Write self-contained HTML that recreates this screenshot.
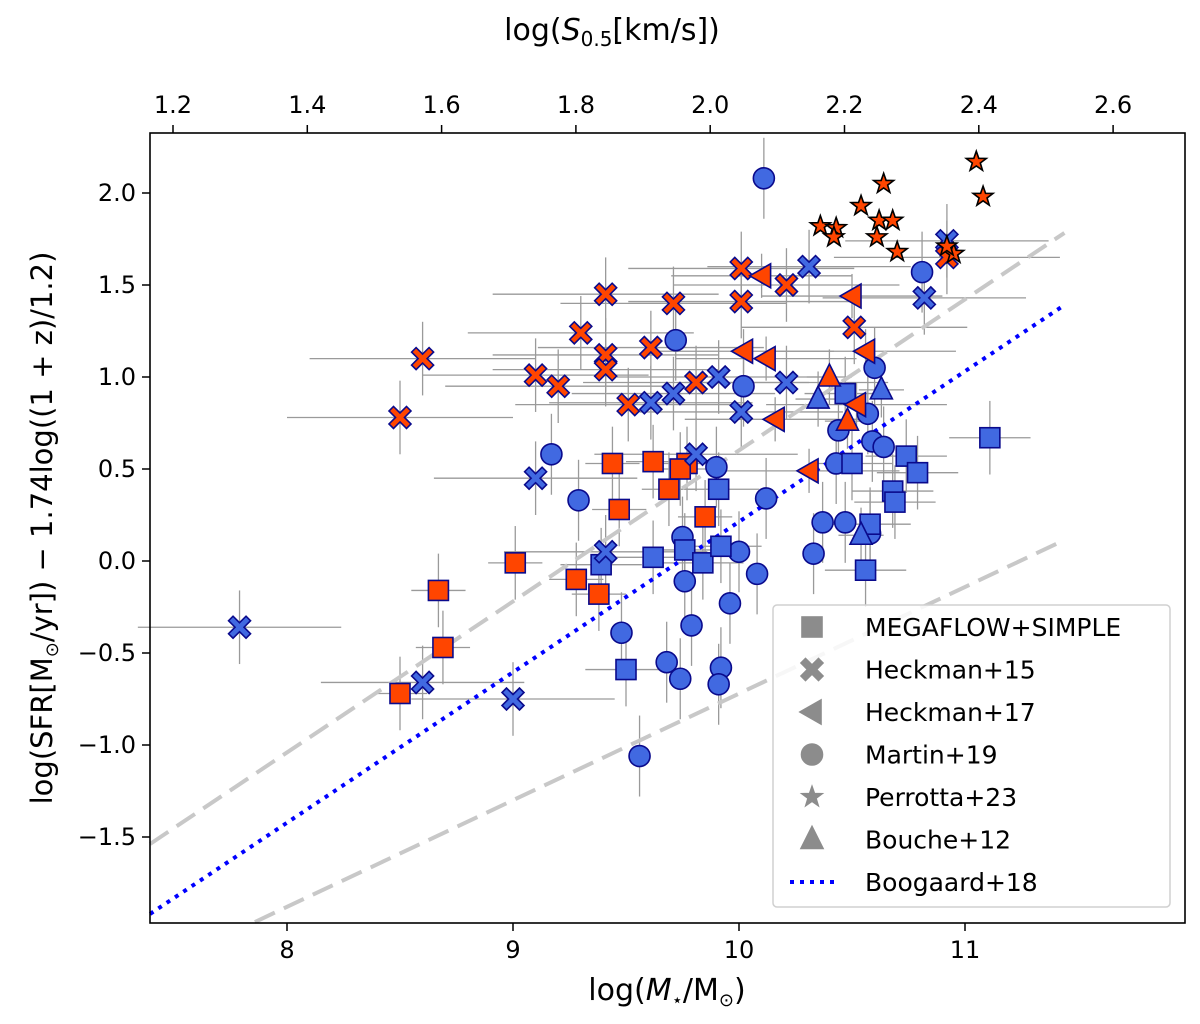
<!DOCTYPE html>
<html><head><meta charset="utf-8"><style>
body{margin:0;background:#fff}
svg text{font-family:"DejaVu Sans","Liberation Sans",sans-serif;fill:#000}
</style></head><body>
<svg id="chart" width="1200" height="1019" viewBox="0 0 1200 1019" xmlns="http://www.w3.org/2000/svg">
<g id="layer-err"></g>
<g id="layer-lines"></g>
<g id="layer-pts"></g>
<rect x="150" y="133" width="1035" height="790" fill="none" stroke="#000" stroke-width="1.6"/>
<g id="axes"></g>
<g id="legend"></g>
</svg>
<script>
// ---- data ----
const redSqX=[9.44,9.62,9.77,9.74,9.69,9.47,9.85,9.01,8.67,9.28,9.38,8.69,8.50];
const redSqY=[0.53,0.54,0.53,0.50,0.39,0.28,0.24,-0.01,-0.16,-0.10,-0.18,-0.47,-0.72];
const bluSqX=[9.91,9.39,9.62,9.76,9.84,9.92,9.50,10.47,10.50,10.74,10.79,10.68,10.69,10.58,10.56,11.11];
const bluSqY=[0.39,-0.02,0.02,0.06,-0.01,0.08,-0.59,0.91,0.53,0.57,0.48,0.38,0.32,0.20,-0.05,0.67];
const bluXX=[7.79,9.10,9.41,9.81,8.60,9.00,10.92,10.31,10.82,9.91,9.71,9.61,10.21,10.01];
const bluXY=[-0.36,0.45,0.05,0.58,-0.66,-0.75,1.74,1.60,1.43,1.00,0.91,0.86,0.97,0.81];
const redXX=[10.01,10.21,10.01,9.41,9.71,9.30,9.61,9.41,9.41,9.10,9.20,9.51,9.81,8.60,8.50,10.51,10.92];
const redXY=[1.59,1.50,1.41,1.45,1.40,1.24,1.16,1.12,1.04,1.01,0.95,0.85,0.97,1.10,0.78,1.27,1.65];
const triLX=[10.10,10.50,10.02,10.12,10.56,10.16,10.52,10.31];
const triLY=[1.55,1.44,1.14,1.10,1.14,0.77,0.85,0.49];
const redTriX=[10.40,10.48];
const redTriY=[1.00,0.76];
const bluTriX=[10.35,10.63,10.54];
const bluTriY=[0.88,0.93,0.14];
const circX=[10.11,10.81,9.72,10.02,10.60,9.17,9.29,9.90,10.12,9.75,9.76,10.00,10.08,9.96,9.79,9.48,9.68,9.74,9.92,9.91,9.56,10.57,10.44,10.59,10.64,10.43,10.37,10.47,10.58,10.33];
const circY=[2.08,1.57,1.20,0.95,1.05,0.58,0.33,0.51,0.34,0.13,-0.11,0.05,-0.07,-0.23,-0.35,-0.39,-0.55,-0.64,-0.58,-0.67,-1.06,0.80,0.71,0.65,0.62,0.53,0.21,0.21,0.15,0.04];
const starX=[11.05,11.08,10.64,10.54,10.62,10.68,10.36,10.43,10.42,10.61,10.70,10.95,10.92];
const starY=[2.17,1.98,2.05,1.93,1.85,1.85,1.82,1.81,1.76,1.76,1.68,1.67,1.71];
const boogX=[7.394,11.44], boogY=[-1.918,1.391];
const upX=[7.394,11.44], upY=[-1.538,1.783];
const loX=[7.858,11.44], loY=[-1.962,0.114];
const xTicks=[8,9,10,11];
const yTicks=[-1.5,-1.0,-0.5,0.0,0.5,1.0,1.5,2.0];
const yTickLabels=["\u22121.5","\u22121.0","\u22120.5","0.0","0.5","1.0","1.5","2.0"];
const sTicks=[1.2,1.4,1.6,1.8,2.0,2.2,2.4,2.6];
const legendLabels=["MEGAFLOW+SIMPLE","Heckman+15","Heckman+17","Martin+19","Perrotta+23","Bouche+12","Boogaard+18"];

// ---- scales ----
const X=v=>287+(v-8)*226;
const Y=v=>561-v*184;
const S=v=>173+(v-1.2)/0.2*134.3;
const NS="http://www.w3.org/2000/svg";
function mk(tag,attrs,parent){const e=document.createElementNS(NS,tag);for(const k in attrs)e.setAttribute(k,attrs[k]);parent.appendChild(e);return e;}
const gE=document.getElementById('layer-err'),gL=document.getElementById('layer-lines'),gP=document.getElementById('layer-pts'),gA=document.getElementById('axes'),gLg=document.getElementById('legend');
const RED='#ff4500',BLUE='#4169e1',EDGE='#0a0a8c';

function err(xs,ys,xe,ye){
  for(let i=0;i<xs.length;i++){
    const cx=X(xs[i]),cy=Y(ys[i]);
    if(xe>0){const l=mk('line',{x1:X(xs[i]-xe),x2:X(xs[i]+xe),y1:cy,y2:cy,stroke:'#9a9a9a','stroke-width':1.3},gE);
      
      }
    if(ye>0){const l=mk('line',{x1:cx,x2:cx,y1:Y(ys[i]-ye),y2:Y(ys[i]+ye),stroke:'#9a9a9a','stroke-width':1.3},gE);
      
      }
  }
}
err(redSqX,redSqY,0.12,0.2);err(bluSqX,bluSqY,0.18,0.2);
err(bluXX,bluXY,0.45,0.2);err(redXX,redXY,0.5,0.2);
err(triLX,triLY,0.4,0.12);err(circX,circY,0,0.22);
err(redTriX,redTriY,0.1,0.15);err(bluTriX,bluTriY,0.1,0.15);

function line(xs,ys,attrs,name){const l=mk('line',Object.assign({x1:X(xs[0]),y1:Y(ys[0]),x2:X(xs[1]),y2:Y(ys[1])},attrs),gL);
  
  }
line(upX,upY,{stroke:'#c8c8c8','stroke-width':4,'stroke-dasharray':'22,10'},'upper-dashed-line');
line(loX,loY,{stroke:'#c8c8c8','stroke-width':4,'stroke-dasharray':'22,10'},'lower-dashed-line');
line(boogX,boogY,{stroke:'#0000ff','stroke-width':4,'stroke-dasharray':'4,6'},'boogaard-line');

function shape(kind,cx,cy,fill,edge,parent,sz){
  const s=sz||1;let e;
  if(kind==='sq'){e=mk('rect',{x:cx-10*s,y:cy-10*s,width:20*s,height:20*s},parent);}
  else if(kind==='ci'){e=mk('circle',{cx:cx,cy:cy,r:10.5*s},parent);}
  else if(kind==='x'){const a=4.5*s,b=11*s;
    const p=[[0,-a],[b-a,-b],[b,-b+a],[a,0],[b,b-a],[b-a,b],[0,a],[-b+a,b],[-b,b-a],[-a,0],[-b,-b+a],[-b+a,-b]];
    e=mk('polygon',{points:p.map(q=>(cx+q[0])+','+(cy+q[1])).join(' ')},parent);}
  else if(kind==='tl'){e=mk('polygon',{points:`${cx-12*s},${cy} ${cx+9*s},${cy-12*s} ${cx+9*s},${cy+12*s}`},parent);}
  else if(kind==='tu'){e=mk('polygon',{points:`${cx},${cy-13*s} ${cx+11*s},${cy+9*s} ${cx-11*s},${cy+9*s}`},parent);}
  else if(kind==='st'){const pts=[];for(let k=0;k<10;k++){const r=(k%2?4.2:10.5)*s,a=-Math.PI/2+k*Math.PI/5;pts.push((cx+r*Math.cos(a))+','+(cy+r*Math.sin(a)));}
    e=mk('polygon',{points:pts.join(' ')},parent);}
  e.setAttribute('fill',fill);e.setAttribute('stroke',edge);e.setAttribute('stroke-width',1.6);
  return e;
}
function pts(kind,xs,ys,fill,edge,name){
  for(let i=0;i<xs.length;i++){const e=shape(kind,X(xs[i]),Y(ys[i]),fill,edge,gP);
    
    }
}
pts('ci',circX,circY,BLUE,EDGE,'martin19-point');
pts('sq',bluSqX,bluSqY,BLUE,EDGE,'megaflow-blue-point');
pts('sq',redSqX,redSqY,RED,EDGE,'megaflow-red-point');
pts('x',bluXX,bluXY,BLUE,EDGE,'heckman15-blue-point');
pts('x',redXX,redXY,RED,EDGE,'heckman15-red-point');
pts('tl',triLX,triLY,RED,EDGE,'heckman17-point');
pts('tu',bluTriX,bluTriY,BLUE,EDGE,'bouche12-blue-point');
pts('tu',redTriX,redTriY,RED,EDGE,'bouche12-red-point');
pts('st',starX,starY,RED,'#000','perrotta23-point');

// axes
xTicks.forEach(v=>{const x=X(v);
  const t=mk('line',{x1:x,x2:x,y1:923,y2:931,stroke:'#000','stroke-width':1.5},gA);
  
  
  const l=mk('text',{x:x,y:958,'font-size':24,'text-anchor':'middle'},gA);l.textContent=v;
  
  });
yTicks.forEach((v,i)=>{const y=Y(v);
  const t=mk('line',{x1:142,x2:150,y1:y,y2:y,stroke:'#000','stroke-width':1.5},gA);
  
  
  const l=mk('text',{x:136,y:y+8,'font-size':24,'text-anchor':'end'},gA);l.textContent=yTickLabels[i];
  
  });
sTicks.forEach(v=>{const x=S(v);
  const t=mk('line',{x1:x,x2:x,y1:125,y2:133,stroke:'#000','stroke-width':1.5},gA);
  
  
  const l=mk('text',{x:x,y:113,'font-size':24,'text-anchor':'middle'},gA);l.textContent=v.toFixed(1);
  
  });
const xl=mk('text',{x:667,y:1000,'font-size':30,'text-anchor':'middle'},gA);
xl.innerHTML='log(<tspan font-style="italic">M</tspan><tspan font-size="18" dy="6">\u22c6</tspan><tspan dy="-6">/M</tspan><tspan font-size="18" dy="6">\u2299</tspan><tspan dy="-6">)</tspan>';


const tl=mk('text',{x:612,y:40,'font-size':30,'text-anchor':'middle'},gA);
tl.innerHTML='log(<tspan font-style="italic">S</tspan><tspan font-size="20" dy="6">0.5</tspan><tspan dy="-6">[km/s])</tspan>';


const yl=mk('text',{x:0,y:0,'font-size':29,'text-anchor':'middle',transform:'translate(52,528) rotate(-90)'},gA);
yl.innerHTML='log(SFR[M<tspan font-size="18" dy="6">\u2299</tspan><tspan dy="-6">/yr]) \u2212 1.74log((1 + z)/1.2)</tspan>';



// legend
const box=mk('rect',{x:773,y:605,width:397,height:302,rx:4,fill:'#fff','fill-opacity':0.85,stroke:'#d0d0d0','stroke-width':1.5},gLg);


const kinds=['sq','x','tl','ci','st','tu'];
legendLabels.forEach((lab,i)=>{const y=627+i*42.5;
  if(i<6){const m=shape(kinds[i],812,y,'#8c8c8c','#8c8c8c',gLg,1);
    
    }
  else{const m=mk('line',{x1:790,x2:840,y1:y,y2:y,stroke:'#0000ff','stroke-width':4,'stroke-dasharray':'4,6'},gLg);
    
    }
  const t=mk('text',{x:865,y:y+9,'font-size':25},gLg);t.textContent=lab;
  
  });
</script>
</body></html>
